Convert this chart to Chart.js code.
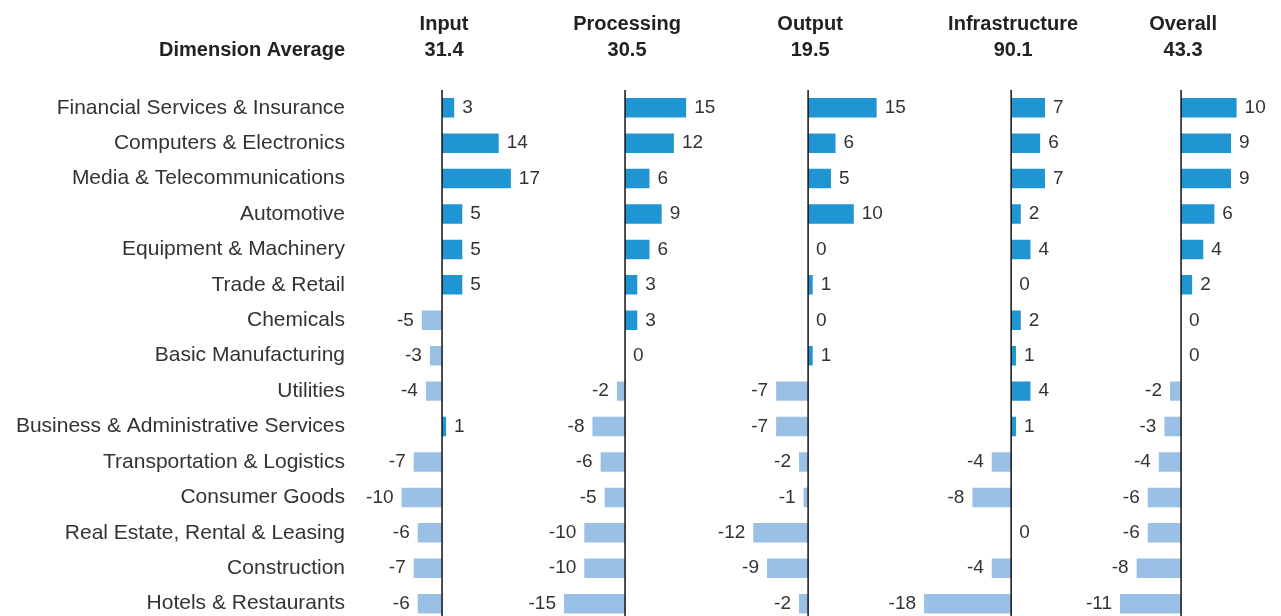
<!DOCTYPE html>
<html>
<head>
<meta charset="utf-8">
<script src="https://cdn.jsdelivr.net/npm/chart.js@4.4.0/dist/chart.umd.min.js"></script>
<style>
  html, body { margin: 0; padding: 0; background: #fff; overflow: hidden; }
  #wrap { position: relative; width: 1281px; height: 644px; }
</style>
</head>
<body>
<div id="wrap"><canvas id="dimChart" width="1281" height="644"></canvas></div>
<script>
// --- data ---
const categories = [
  "Financial Services & Insurance",
  "Computers & Electronics",
  "Media & Telecommunications",
  "Automotive",
  "Equipment & Machinery",
  "Trade & Retail",
  "Chemicals",
  "Basic Manufacturing",
  "Utilities",
  "Business & Administrative Services",
  "Transportation & Logistics",
  "Consumer Goods",
  "Real Estate, Rental & Leasing",
  "Construction",
  "Hotels & Restaurants",
];
const dimensions = ["Input", "Processing", "Output", "Infrastructure", "Overall"];
const dimensionAverages = ["31.4", "30.5", "19.5", "90.1", "43.3"];

const inputValues = [3, 14, 17, 5, 5, 5, -5, -3, -4, 1, -7, -10, -6, -7, -6];
const processingValues = [15, 12, 6, 9, 6, 3, 3, 0, -2, -8, -6, -5, -10, -10, -15];
const outputValues = [15, 6, 5, 10, 0, 1, 0, 1, -7, -7, -2, -1, -12, -9, -2];
const infrastructureValues = [7, 6, 7, 2, 4, 0, 2, 1, 4, 1, -4, -8, 0, -4, -18];
const overallValues = [10, 9, 9, 6, 4, 2, 0, 0, -2, -3, -4, -6, -6, -8, -11];

const seriesValues = [inputValues, processingValues, outputValues, infrastructureValues, overallValues];

const POS_COLOR = "#1f95d3";
const NEG_COLOR = "#9bc0e6";
const FONT = '"Liberation Sans", "Helvetica Neue", Arial, sans-serif';

// panel layout: [stackWeight(px), min, max]
const panels = [
  [200, -21.5, 27.9],
  [180, -17.2, 27.0],
  [175, -16.0, 22.3],
  [180, -20.9, 16.3],
  [191, -16.4, 18.0],
];

const scales = {
  y: {
    type: "category",
    offset: true,
    grid: { display: false, drawTicks: false },
    border: { display: false },
    ticks: {
      padding: 10,
      color: "#333",
      font: { family: FONT, size: 21 },
    },
    afterFit: (s) => { s.width = 355; },
  },
};
panels.forEach((p, i) => {
  scales["x" + i] = {
    type: "linear",
    axis: "x",
    position: "bottom",
    stack: "panels",
    stackWeight: p[0],
    min: p[1],
    max: p[2],
    display: false,
  };
});

const panelDecor = {
  id: "panelDecor",
  afterDatasetsDraw(chart) {
    const { ctx, chartArea } = chart;
    ctx.save();
    chart.data.datasets.forEach((ds, i) => {
      const meta = chart.getDatasetMeta(i);
      const zx = chart.scales[ds.xAxisID].getPixelForValue(0);

      // zero line
      ctx.strokeStyle = "#111";
      ctx.lineWidth = 1.5;
      ctx.beginPath();
      ctx.moveTo(zx, chartArea.top);
      ctx.lineTo(zx, chart.height);
      ctx.stroke();

      // value labels
      ctx.font = "19px " + FONT;
      ctx.fillStyle = "#333";
      ctx.textBaseline = "middle";
      meta.data.forEach((bar, j) => {
        const v = ds.data[j];
        if (v < 0) {
          ctx.textAlign = "right";
          ctx.fillText(String(v), bar.x - 8, bar.y);
        } else {
          ctx.textAlign = "left";
          ctx.fillText(String(v), Math.max(bar.x, zx) + 8, bar.y);
        }
      });

      // header
      ctx.font = "bold 20px " + FONT;
      ctx.fillStyle = "#222";
      ctx.textAlign = "center";
      ctx.fillText(dimensions[i], zx + 2, 24);
      ctx.fillText(dimensionAverages[i], zx + 2, 50);
    });
    ctx.textAlign = "right";
    ctx.fillText("Dimension Average", 345, 50);
    ctx.restore();
  },
};

new Chart(document.getElementById("dimChart"), {
  type: "bar",
  data: {
    labels: categories,
    datasets: seriesValues.map((vals, i) => ({
      label: dimensions[i],
      data: vals,
      xAxisID: "x" + i,
      yAxisID: "y",
      grouped: false,
      categoryPercentage: 1,
      barPercentage: 0.55,
      backgroundColor: (c) => (c.raw >= 0 ? POS_COLOR : NEG_COLOR),
      borderWidth: 0,
    })),
  },
  options: {
    indexAxis: "y",
    responsive: false,
    animation: false,
    layout: { padding: { top: 90, left: 0, right: 0, bottom: 0 } },
    scales: scales,
    plugins: {
      legend: { display: false },
      tooltip: { enabled: false },
    },
  },
  plugins: [panelDecor],
});
</script>
</body>
</html>
